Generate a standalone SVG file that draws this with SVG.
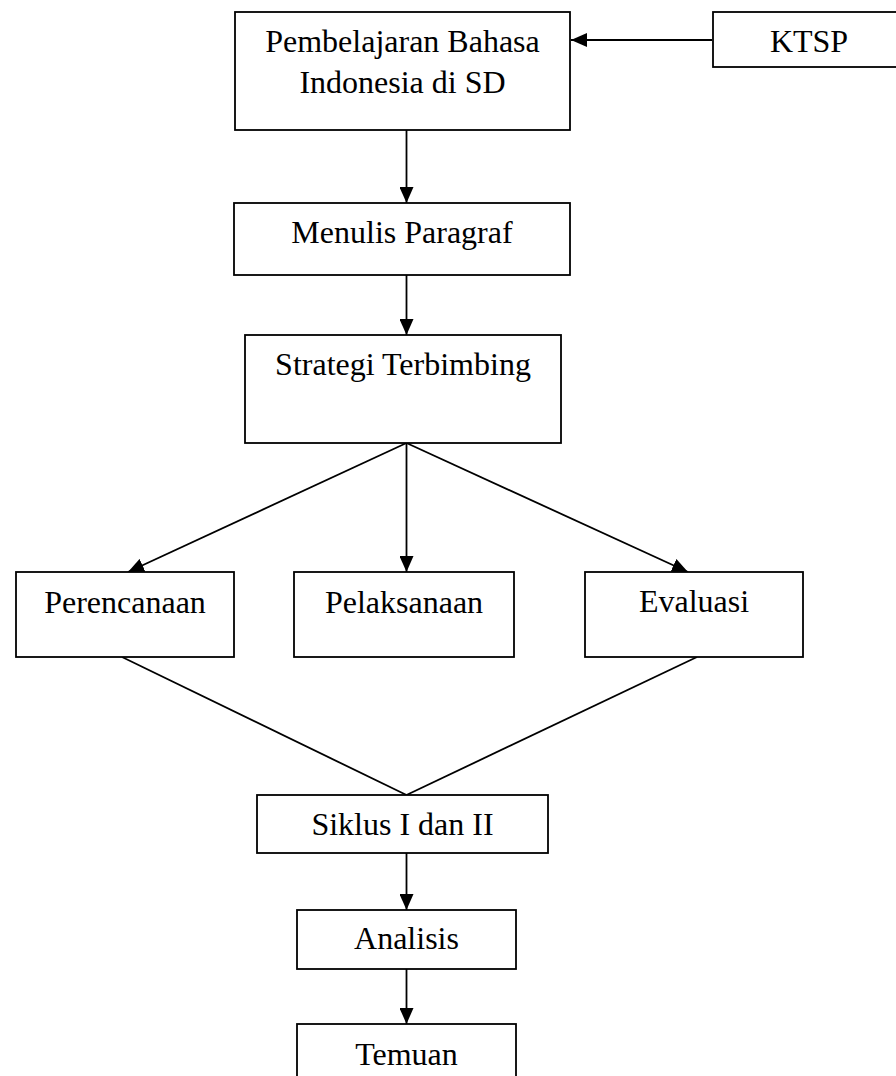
<svg xmlns="http://www.w3.org/2000/svg" width="896" height="1076" viewBox="0 0 896 1076">
<defs>
<marker id="arr" viewBox="0 0 16 14" refX="16" refY="7" markerWidth="16" markerHeight="14" markerUnits="userSpaceOnUse" orient="auto">
<path d="M0,0 L16,7 L0,14 z" fill="#000"/>
</marker>
<style>
.box{fill:#fff;stroke:#000;stroke-width:1.8}
.t{font-family:"Liberation Serif","Times New Roman",serif;font-size:32px;fill:#000;text-anchor:middle}
.c{fill:none;stroke:#000;stroke-width:1.8}
.a{marker-end:url(#arr)}
</style>
</defs>
<rect width="896" height="1076" fill="#fff"/>
<g id="connectors">
<line class="c a" x1="712" y1="40" x2="571" y2="40"/>
<line class="c a" x1="406.5" y1="130" x2="406.5" y2="203"/>
<line class="c a" x1="406.5" y1="275" x2="406.5" y2="335"/>
<line class="c a" x1="406.5" y1="443" x2="128" y2="572"/>
<line class="c a" x1="406.5" y1="443" x2="406.5" y2="572"/>
<line class="c a" x1="406.5" y1="443" x2="688" y2="572"/>
<line class="c" x1="122" y1="657" x2="406.5" y2="795"/>
<line class="c" x1="697" y1="657" x2="406.5" y2="795"/>
<line class="c a" x1="406.5" y1="853" x2="406.5" y2="910"/>
<line class="c a" x1="406.5" y1="969" x2="406.5" y2="1024"/>
</g>
<g id="n-pembelajaran">
<rect class="box" x="235" y="12" width="335" height="118"/>
<text class="t" x="402.5" y="52">Pembelajaran Bahasa</text>
<text class="t" x="402.5" y="93">Indonesia di SD</text>
</g>
<g id="n-ktsp">
<rect class="box" x="713" y="12" width="195" height="55"/>
<text class="t" x="809" y="52">KTSP</text>
</g>
<g id="n-menulis">
<rect class="box" x="234" y="203" width="336" height="72"/>
<text class="t" x="402" y="243">Menulis Paragraf</text>
</g>
<g id="n-strategi">
<rect class="box" x="245" y="335" width="316" height="108"/>
<text class="t" x="403" y="375">Strategi Terbimbing</text>
</g>
<g id="n-perencanaan">
<rect class="box" x="16" y="572" width="218" height="85"/>
<text class="t" x="125" y="613">Perencanaan</text>
</g>
<g id="n-pelaksanaan">
<rect class="box" x="294" y="572" width="220" height="85"/>
<text class="t" x="404" y="613">Pelaksanaan</text>
</g>
<g id="n-evaluasi">
<rect class="box" x="585" y="572" width="218" height="85"/>
<text class="t" x="694" y="612">Evaluasi</text>
</g>
<g id="n-siklus">
<rect class="box" x="257" y="795" width="291" height="58"/>
<text class="t" x="402.5" y="835">Siklus I dan II</text>
</g>
<g id="n-analisis">
<rect class="box" x="297" y="910" width="219" height="59"/>
<text class="t" x="406.5" y="949">Analisis</text>
</g>
<g id="n-temuan">
<rect class="box" x="297" y="1024" width="219" height="70"/>
<text class="t" x="406.5" y="1065">Temuan</text>
</g>
</svg>
